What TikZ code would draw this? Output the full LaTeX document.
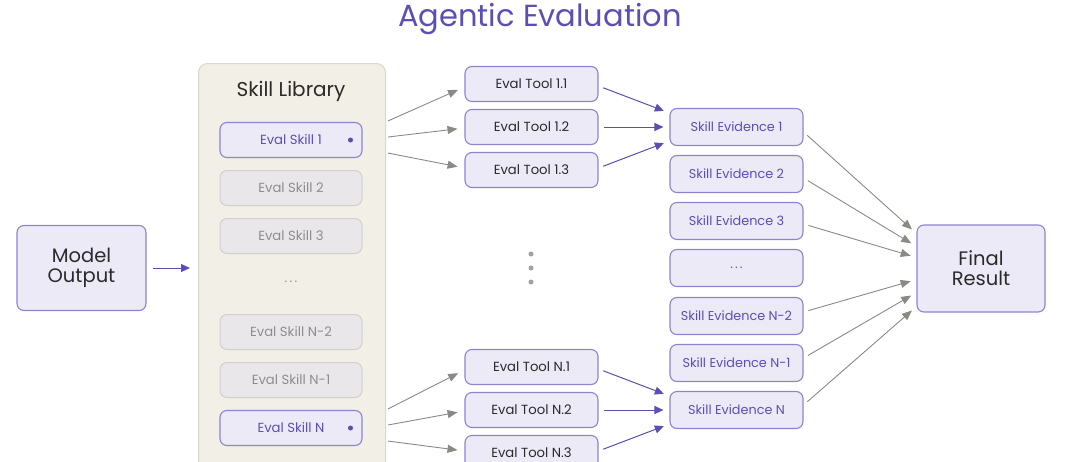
\documentclass[tikz,border=0pt]{standalone}
\usepackage{fontspec}
\setmainfont{Poppins}
\usetikzlibrary{arrows.meta,calc}
\definecolor{purp}{HTML}{5A4FB5}
\definecolor{lav}{HTML}{ECEAF7}
\definecolor{lavb}{HTML}{8C84CF}
\definecolor{beige}{HTML}{F1EFE6}
\definecolor{beigeb}{HTML}{DAD7CB}
\definecolor{greyfill}{HTML}{E9E7EA}
\definecolor{greyb}{HTML}{D2CFCD}
\definecolor{greytxt}{HTML}{8E8C8C}
\definecolor{arrgrey}{HTML}{8A8A85}
\definecolor{dark}{HTML}{2A2A2A}
\tikzset{
  box/.style={draw=lavb, fill=lav, line width=1.1pt, rounded corners=7pt, inner sep=0pt, align=center},
  bigbox/.style={box, minimum width=129pt, minimum height=85pt, text=dark, font=\fontsize{19.5}{20}\selectfont},
  skillon/.style={box, minimum width=142pt, minimum height=35pt, text=purp, font=\fontsize{13.2}{14}\selectfont},
  skilloff/.style={draw=greyb, fill=greyfill, line width=1pt, rounded corners=7pt, minimum width=142pt, minimum height=35pt, text=greytxt, font=\fontsize{13.2}{14}\selectfont},
  toolbox/.style={box, minimum width=133pt, minimum height=35pt, text=dark, font=\fontsize{13.2}{14}\selectfont},
  evbox/.style={box, minimum width=133pt, minimum height=37pt, text=purp, font=\fontsize{12.8}{14}\selectfont},
  garrow/.style={draw=arrgrey, line width=0.9pt, -{Triangle[length=10pt,width=8pt]}, arrgrey},
  parrow/.style={draw=purp, line width=1pt, -{Triangle[length=9pt,width=8pt]}, purp},
  sdot/.style={circle, fill=purp, inner sep=0pt, minimum size=5pt},
  vdot/.style={circle, fill=arrgrey!80, inner sep=0pt, minimum size=5pt},
}
\begin{document}
\begin{tikzpicture}[x=1pt,y=-1pt]
\useasboundingbox (0,0) rectangle (1080,461);
\begin{scope}
\clip (0,0) rectangle (1080,461);
% title
\node[text=purp, font=\fontsize{30.5}{30.5}\selectfont] (title) at (540,19) {Agentic Evaluation};
% model output
\node[bigbox] (mo) at (81.5,268) {Model\\Output};
% skill library panel
\node[draw=beigeb, fill=beige, line width=1pt, rounded corners=9pt, minimum width=187pt, minimum height=420pt, anchor=north west, inner sep=0pt] (lib) at (198,63) {};
\node[text=dark, font=\fontsize{20}{20}\selectfont] (libt) at (291,91) {Skill Library};
\node[skillon] (s1) at (291,140) {Eval Skill 1};
\node[sdot] (d1) at (350.5,140) {};
\node[skilloff] (s2) at (291,188) {Eval Skill 2};
\node[skilloff] (s3) at (291,236) {Eval Skill 3};
\node[text=greytxt, font=\fontsize{13}{14}\selectfont] (sdots) at (291,282) {.\,.\,.};
\node[skilloff] (s4) at (291,332) {Eval Skill N-2};
\node[skilloff] (s5) at (291,380) {Eval Skill N-1};
\node[skillon] (s6) at (291,428) {Eval Skill N};
\node[sdot] (d6) at (350.5,428) {};
% tools
\node[toolbox] (t11) at (531.5,84) {Eval Tool 1.1};
\node[toolbox] (t12) at (531.5,127) {Eval Tool 1.2};
\node[toolbox] (t13) at (531.5,170) {Eval Tool 1.3};
\node[toolbox] (tn1) at (531.5,367) {Eval Tool N.1};
\node[toolbox] (tn2) at (531.5,410) {Eval Tool N.2};
\node[toolbox] (tn3) at (531.5,453) {Eval Tool N.3};
\node[vdot] (v1) at (531,254) {};
\node[vdot] (v2) at (531,268) {};
\node[vdot] (v3) at (531,282) {};
% evidence
\node[evbox] (e1) at (736.5,127) {Skill Evidence 1};
\node[evbox] (e2) at (736.5,174) {Skill Evidence 2};
\node[evbox] (e3) at (736.5,221) {Skill Evidence 3};
\node[evbox] (e4) at (736.5,268) {.\,.\,.};
\node[evbox] (e5) at (736.5,316) {Skill Evidence N-2};
\node[evbox] (e6) at (736.5,363) {Skill Evidence N-1};
\node[evbox] (e7) at (736.5,410) {Skill Evidence N};
% final
\node[bigbox, minimum width=128pt, minimum height=87pt] (fr) at (981,268.5) {Final\\Result};
% arrows
\draw[parrow, shorten <=6pt, shorten >=8pt] (mo.east) -- (lib.west |- mo.east);
% skill 1 -> tools
\draw[garrow, shorten >=7pt] ($(lib.east |- s1.north)+(2,-1)$) -- ($(t11.west)+(0,3)$);
\draw[garrow, shorten >=7pt] ($(lib.east |- s1.center)+(2,-3)$) -- ($(t12.west)+(0,1)$);
\draw[garrow, shorten >=7pt] ($(lib.east |- s1.south)+(2,-5)$) -- ($(t13.west)+(0,-2)$);
\draw[garrow, shorten >=7pt] ($(lib.east |- s6.north)+(2,-1)$) -- ($(tn1.west)+(0,3)$);
\draw[garrow, shorten >=7pt] ($(lib.east |- s6.center)+(2,-3)$) -- ($(tn2.west)+(0,1)$);
\draw[garrow, shorten >=7pt] ($(lib.east |- s6.south)+(2,-5)$) -- ($(tn3.west)+(0,-2)$);
% tools -> evidence
\draw[parrow, shorten <=5pt, shorten >=6pt] ($(t11.east)+(0,2)$) -- ($(e1.west)+(0,-14)$);
\draw[parrow, shorten <=5pt, shorten >=6pt] (t12.east) -- (e1.west);
\draw[parrow, shorten <=5pt, shorten >=6pt] ($(t13.east)+(0,-2)$) -- ($(e1.west)+(0,14)$);
\draw[parrow, shorten <=5pt, shorten >=6pt] ($(tn1.east)+(0,2)$) -- ($(e7.west)+(0,-14)$);
\draw[parrow, shorten <=5pt, shorten >=6pt] (tn2.east) -- (e7.west);
\draw[parrow, shorten <=5pt, shorten >=6pt] ($(tn3.east)+(0,-2)$) -- ($(e7.west)+(0,14)$);
% evidence -> final
\draw[garrow, shorten <=5pt, shorten >=6pt] ($(e1.east)+(0,5)$) -- ($(fr.west)+(0,-35)$);
\draw[garrow, shorten <=5pt, shorten >=6pt] ($(e2.east)+(0,4)$) -- ($(fr.west)+(0,-22)$);
\draw[garrow, shorten <=5pt, shorten >=6pt] ($(e3.east)+(0,3)$) -- ($(fr.west)+(0,-11)$);
\draw[garrow, shorten <=5pt, shorten >=6pt] ($(e5.east)+(0,-4)$) -- ($(fr.west)+(0,11)$);
\draw[garrow, shorten <=5pt, shorten >=6pt] ($(e6.east)+(0,-5)$) -- ($(fr.west)+(0,24)$);
\draw[garrow, shorten <=5pt, shorten >=6pt] ($(e7.east)+(0,-5)$) -- ($(fr.west)+(0,38)$);
\end{scope}
\end{tikzpicture}
\end{document}
